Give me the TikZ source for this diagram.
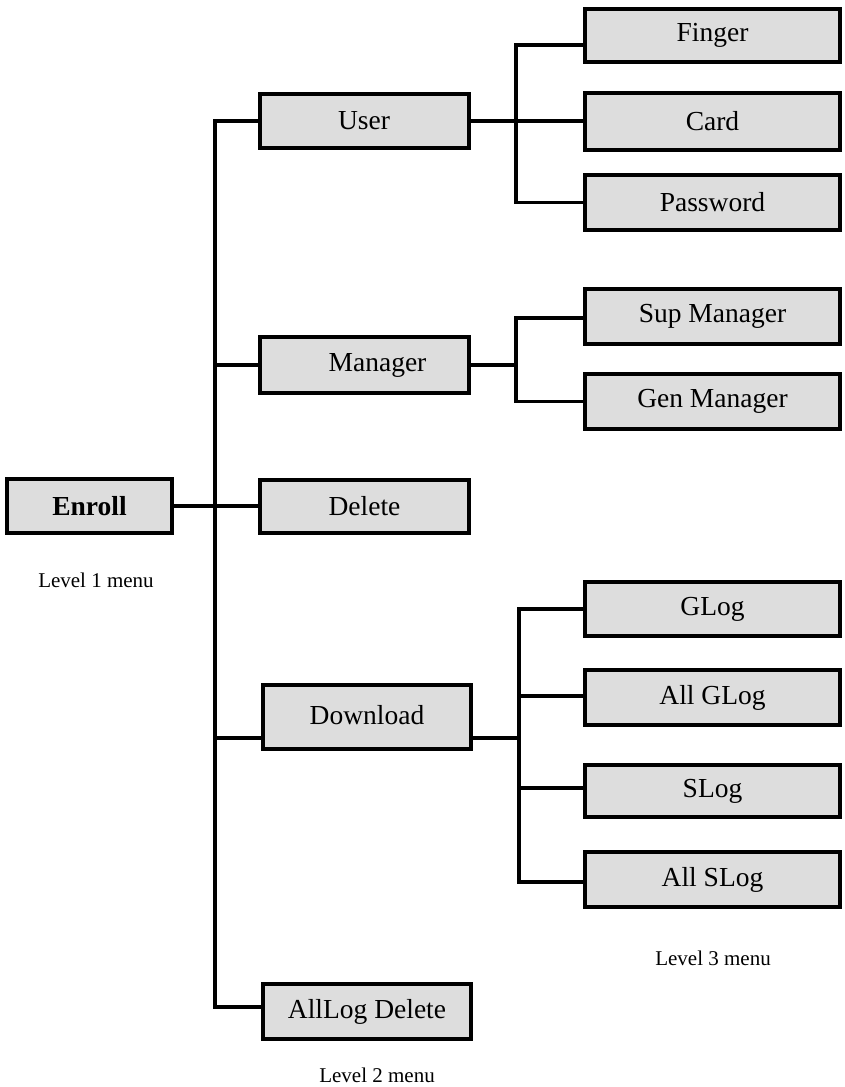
\documentclass[tikz,border=0pt]{standalone}
\usepackage{fontspec}
\setmainfont{Liberation Serif}
\definecolor{boxgray}{HTML}{DDDDDD}
\begin{document}
\begin{tikzpicture}[x=1pt,y=1pt,
  menubox/.style={draw=black, line width=4pt, fill=boxgray, rectangle, inner sep=0pt,
    font=\fontsize{27.5}{32}\selectfont, minimum height=54pt},
  lvtwo/.style={menubox, minimum width=209pt},
  lvthree/.style={menubox, minimum width=255pt},
  conn/.style={line width=3.3pt, line join=miter},
  caption/.style={font=\fontsize{21}{25}\selectfont, inner sep=0pt}]
\useasboundingbox (0,0) rectangle (845,-1087);

% level 1
\node[menubox, minimum width=165pt, font=\fontsize{27.5}{32}\selectfont\bfseries] (enroll) at (89.5,-506) {Enroll};
\node[caption] (cap1) at (96,-580) {Level 1 menu};

% level 2
\node[lvtwo] (user) at (364,-121) {User};
\node[lvtwo, minimum height=56pt] (manager) at (364.5,-365) {\hspace*{26pt}Manager};
\node[lvtwo, minimum height=53pt] (delete) at (364.5,-506) {Delete};
\node[lvtwo, minimum width=208pt, minimum height=64pt] (download) at (367,-717) {\raisebox{5pt}{Download}};
\node[lvtwo, minimum width=208pt, minimum height=55pt] (alllog) at (367,-1011.5) {AllLog Delete};
\node[caption] (cap2) at (377,-1075) {Level 2 menu};

% level 3
\node[lvthree, minimum height=53pt] (finger) at (712.5,-35.5) {Finger};
\node[lvthree, minimum height=57pt] (card) at (712.5,-121) {Card};
\node[lvthree, minimum height=55pt] (password) at (712.5,-202.5) {Password};
\node[lvthree, minimum height=55pt] (supm) at (712.5,-316.5) {Sup Manager};
\node[lvthree, minimum height=55pt] (genm) at (712.5,-401.5) {Gen Manager};
\node[lvthree] (glog) at (712.5,-609) {GLog};
\node[lvthree, minimum height=55pt] (aglog) at (712.5,-697.5) {All GLog};
\node[lvthree, minimum height=52pt] (slog) at (712.5,-791) {SLog};
\node[lvthree, minimum height=55pt] (aslog) at (712.5,-879.5) {All SLog};
\node[caption] (cap3) at (713,-958) {Level 3 menu};

% junction coordinates
\coordinate (jtop) at (215,-121);
\coordinate (jbot) at (215,-1007);
\coordinate (juser) at (516,-121);
\coordinate (jman) at (516,-365);
\coordinate (jdown) at (519,-738);

% level 1 -> level 2
\draw[conn] (user.west) -- (jtop) -- (jbot) -- ([yshift=4.5pt]alllog.west);
\draw[conn] (manager.west) -- (manager.west -| jtop);
\draw[conn] (enroll.east) -- (delete.west);
\draw[conn] ([yshift=-21pt]download.west) -- ([yshift=-21pt]download.west -| jtop);

% user -> level 3
\draw[conn] (user.east) -- (card.west);
\draw[conn] ([yshift=-9.5pt]finger.west) -- ([yshift=-9.5pt]finger.west -| juser) -- (password.west -| juser) -- (password.west);

% manager -> level 3
\draw[conn] (manager.east) -- (jman);
\draw[conn] ([yshift=-1.5pt]supm.west) -- ([yshift=-1.5pt]supm.west -| jman) -- (genm.west -| jman) -- (genm.west);

% download -> level 3
\draw[conn] ([yshift=-21pt]download.east) -- (jdown);
\draw[conn] (glog.west) -- (glog.west -| jdown) -- ([yshift=-2.5pt]aslog.west -| jdown) -- ([yshift=-2.5pt]aslog.west);
\draw[conn] ([yshift=1.5pt]aglog.west) -- ([yshift=1.5pt]aglog.west -| jdown);
\draw[conn] ([yshift=3pt]slog.west) -- ([yshift=3pt]slog.west -| jdown);
\end{tikzpicture}
\end{document}
